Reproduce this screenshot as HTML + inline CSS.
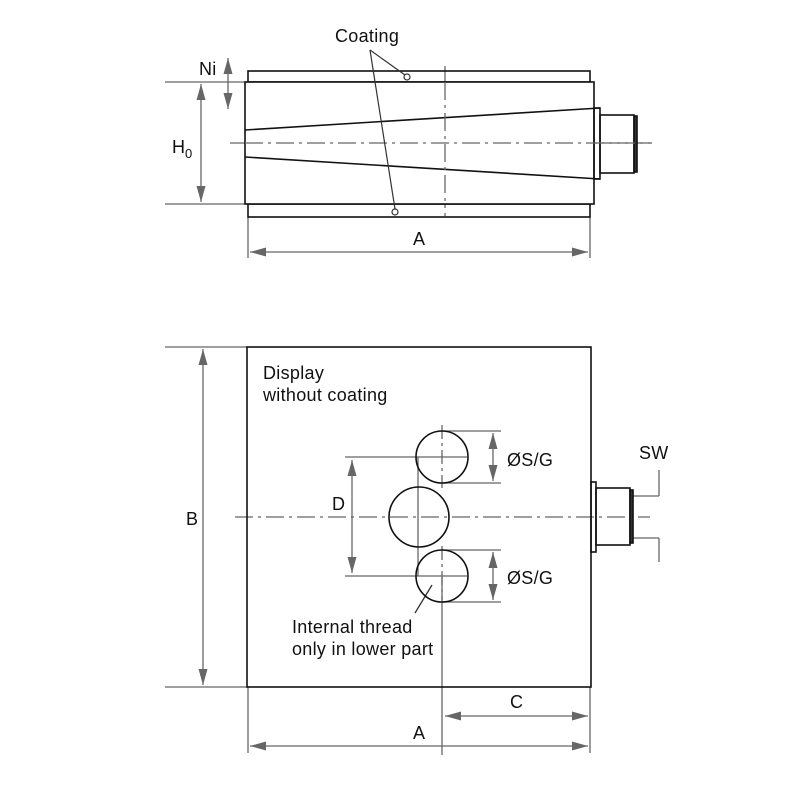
<!DOCTYPE html>
<html><head><meta charset="utf-8"><style>
html,body{margin:0;padding:0;background:#fff;}
svg{display:block;}
text{font-family:"Liberation Sans",sans-serif;fill:#111;letter-spacing:0.3px;}
</style></head><body>
<svg width="800" height="800" viewBox="0 0 800 800" xmlns="http://www.w3.org/2000/svg">
<defs>
<marker id="a" viewBox="0 0 16 9" refX="16" refY="4.5" markerWidth="16" markerHeight="9" markerUnits="userSpaceOnUse" orient="auto-start-reverse">
<path d="M0,0 L16,4.5 L0,9 z" fill="#666"/>
</marker>
</defs>

<!-- ===== TOP VIEW ===== -->
<g stroke="#666" stroke-width="1.3" fill="none">
<line x1="165" y1="82" x2="245" y2="82"/>
<line x1="165" y1="204" x2="245" y2="204"/>
<line x1="248" y1="217" x2="248" y2="258"/>
<line x1="590" y1="217" x2="590" y2="258"/>
<line x1="201" y1="84" x2="201" y2="202" marker-start="url(#a)" marker-end="url(#a)"/>
<line x1="228" y1="58" x2="228" y2="109" marker-start="url(#a)" marker-end="url(#a)"/>
<line x1="250" y1="252" x2="588" y2="252" marker-start="url(#a)" marker-end="url(#a)"/>
<line x1="230" y1="143" x2="652" y2="143" stroke-dasharray="18,5,3,5"/>
<line x1="445" y1="66" x2="445" y2="220" stroke-dasharray="18,5,3,5"/>
</g>
<g stroke="#111" stroke-width="1.6" fill="none">
<rect x="248" y="71" width="342" height="11"/>
<rect x="248" y="204" width="342" height="13"/>
<rect x="245" y="82" width="349" height="122" fill="#fff"/>
<line x1="245" y1="130" x2="600" y2="108"/>
<line x1="245" y1="157" x2="600" y2="179"/>
<rect x="594" y="108" width="6" height="71"/>
<rect x="600" y="115" width="34" height="58"/>
<rect x="634" y="116" width="3" height="56" fill="#333"/>
</g>
<line x1="445" y1="82" x2="445" y2="204" stroke="#666" stroke-width="1.3" stroke-dasharray="18,5,3,5"/>
<line x1="245" y1="143" x2="652" y2="143" stroke="#666" stroke-width="1.3" stroke-dasharray="18,5,3,5"/>
<g stroke="#333" stroke-width="1.2" fill="none">
<line x1="370" y1="50" x2="405" y2="75"/>
<line x1="370" y1="50" x2="395" y2="209"/>
<circle cx="407" cy="77" r="3" fill="#fff"/>
<circle cx="395" cy="212" r="3" fill="#fff"/>
</g>
<text x="335" y="42" font-size="18">Coating</text>
<text x="199" y="75" font-size="18">Ni</text>
<text x="172" y="153" font-size="18">H</text>
<text x="185" y="158" font-size="13">0</text>
<text x="413" y="245" font-size="18">A</text>

<!-- ===== BOTTOM VIEW ===== -->
<g stroke="#666" stroke-width="1.3" fill="none">
<line x1="165" y1="347" x2="247" y2="347"/>
<line x1="165" y1="687" x2="247" y2="687"/>
<line x1="203" y1="349" x2="203" y2="685" marker-start="url(#a)" marker-end="url(#a)"/>
<line x1="248" y1="687" x2="248" y2="753"/>
<line x1="590" y1="687" x2="590" y2="753"/>
<line x1="250" y1="746" x2="588" y2="746" marker-start="url(#a)" marker-end="url(#a)"/>
<line x1="445" y1="716" x2="588" y2="716" marker-start="url(#a)" marker-end="url(#a)"/>
<line x1="235" y1="517" x2="650" y2="517" stroke-dasharray="18,5,3,5"/>
<line x1="345" y1="457" x2="467" y2="457"/>
<line x1="345" y1="576" x2="467" y2="576"/>
<line x1="352" y1="460" x2="352" y2="573" marker-start="url(#a)" marker-end="url(#a)"/>
<line x1="442" y1="431" x2="501" y2="431"/>
<line x1="442" y1="483" x2="501" y2="483"/>
<line x1="493" y1="433" x2="493" y2="481" marker-start="url(#a)" marker-end="url(#a)"/>
<line x1="442" y1="550" x2="501" y2="550"/>
<line x1="442" y1="602" x2="501" y2="602"/>
<line x1="493" y1="552" x2="493" y2="600" marker-start="url(#a)" marker-end="url(#a)"/>
<line x1="418" y1="457" x2="418" y2="576"/>
<line x1="442" y1="425" x2="442" y2="488" stroke-dasharray="14,4,3,4"/>
<line x1="442" y1="546" x2="442" y2="600" stroke-dasharray="14,4,3,4"/>
<line x1="442" y1="577" x2="442" y2="755"/>
<line x1="633" y1="496" x2="659" y2="496"/>
<line x1="659" y1="496" x2="659" y2="470"/>
<line x1="633" y1="538" x2="659" y2="538"/>
<line x1="659" y1="538" x2="659" y2="562"/>
<line x1="432" y1="585" x2="415" y2="613" stroke="#333"/>
</g>
<g stroke="#111" stroke-width="1.6" fill="none">
<rect x="247" y="347" width="344" height="340"/>
<circle cx="442" cy="457" r="26"/>
<circle cx="419" cy="517" r="30"/>
<circle cx="442" cy="576" r="26"/>
<rect x="591" y="482" width="5" height="70"/>
<rect x="596" y="488" width="34" height="57"/>
<rect x="630" y="490" width="3" height="53" fill="#333"/>
</g>
<text x="263" y="379" font-size="18">Display</text>
<text x="263" y="401" font-size="18">without coating</text>
<text x="332" y="510" font-size="18">D</text>
<text x="507" y="466" font-size="18">ØS/G</text>
<text x="507" y="584" font-size="18">ØS/G</text>
<text x="639" y="459" font-size="18">SW</text>
<text x="292" y="633" font-size="18">Internal thread</text>
<text x="292" y="655" font-size="18">only in lower part</text>
<text x="186" y="525" font-size="18">B</text>
<text x="510" y="708" font-size="18">C</text>
<text x="413" y="739" font-size="18">A</text>
</svg>
</body></html>
